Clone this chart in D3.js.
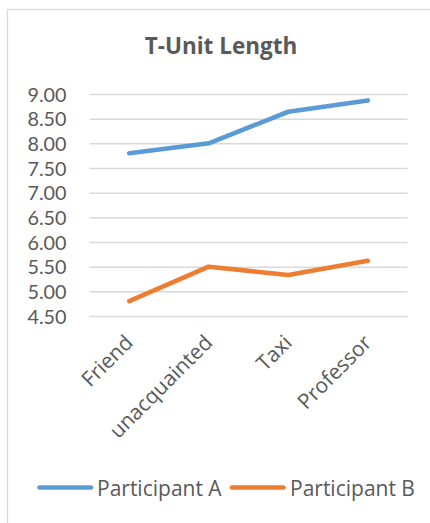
<!DOCTYPE html>
<html>
<head>
<meta charset="utf-8">
<script src="https://cdn.jsdelivr.net/npm/d3@7"></script>
<style>
  html, body { margin: 0; padding: 0; background: #fff; }
  svg { display: block; }
  text { font-family: "Open Sans", "Noto Sans", sans-serif; fill: #595959; }
</style>
</head>
<body>
<script>
const categories = ["Friend", "unacquainted", "Taxi", "Professor"];
const participantA = [7.80, 8.00, 8.64, 8.87];
const participantB = [4.80, 5.50, 5.33, 5.62];
const yTicks = [4.5, 5.0, 5.5, 6.0, 6.5, 7.0, 7.5, 8.0, 8.5, 9.0];
const seriesNames = ["Participant A", "Participant B"];
const seriesColors = ["#5b9bd5", "#ed7d31"];
const chartTitle = "T-Unit Length";

const W = 430, H = 523;
const svg = d3.select("body").append("svg").attr("width", W).attr("height", H);

// chart frame
svg.append("rect")
  .attr("x", 7.5).attr("y", 9.5).attr("width", 440).attr("height", 540)
  .attr("fill", "#fff").attr("stroke", "#d9d9d9").attr("stroke-width", 1.3);

// title
svg.append("text")
  .attr("x", 221).attr("y", 54)
  .attr("text-anchor", "middle")
  .style("font-size", "22.5px").style("font-weight", "bold")
  .text(chartTitle);

const x = d3.scaleBand().domain(categories).range([89.5, 407.5]);
const y = d3.scaleLinear().domain([4.5, 9]).range([316, 94]);

// gridlines
const yAxis = d3.axisLeft(y).tickValues(yTicks).tickFormat(d3.format(".2f"))
  .tickSize(-(407.5 - 89.5)).tickPadding(23);
const gy = svg.append("g").attr("transform", "translate(89.5,0)").call(yAxis);
gy.select(".domain").remove();
gy.selectAll(".tick line").attr("stroke", "#d9d9d9").attr("stroke-width", 1.5);
gy.selectAll(".tick text")
  .attr("fill", "#595959")
  .style("font-size", "19.8px")
  .style("font-family", "Lato, 'Open Sans', sans-serif")
  .attr("dy", "0.36em");

// x axis labels
const xAxis = d3.axisBottom(x).tickSize(0).tickPadding(0);
const gx = svg.append("g").attr("transform", "translate(0,316)").call(xAxis);
gx.select(".domain").remove();
gx.selectAll(".tick text")
  .attr("fill", "#595959")
  .style("font-size", "21px")
  .style("font-family", "'Open Sans', sans-serif")
  .attr("text-anchor", "end")
  .attr("dy", null)
  .attr("y", 0)
  .attr("transform", "translate(5,28) rotate(-45)");

// lines
const line = d3.line()
  .x((d, i) => x(categories[i]) + x.bandwidth() / 2)
  .y(d => y(d));

[participantA, participantB].forEach((s, k) => {
  svg.append("path")
    .datum(s)
    .attr("d", line)
    .attr("fill", "none")
    .attr("stroke", seriesColors[k])
    .attr("stroke-width", 4.6)
    .attr("stroke-linecap", "round")
    .attr("stroke-linejoin", "round");
});

// legend
const legendItems = [
  { x1: 39.5, x2: 91, tx: 97 },
  { x1: 232, x2: 283.5, tx: 290 }
];
legendItems.forEach((it, k) => {
  svg.append("line")
    .attr("x1", it.x1).attr("x2", it.x2)
    .attr("y1", 487.5).attr("y2", 487.5)
    .attr("stroke", seriesColors[k]).attr("stroke-width", 4.6)
    .attr("stroke-linecap", "round");
  svg.append("text")
    .attr("x", it.tx).attr("y", 495.5)
    .style("font-size", "21px")
    .text(seriesNames[k]);
});
</script>
</body>
</html>
